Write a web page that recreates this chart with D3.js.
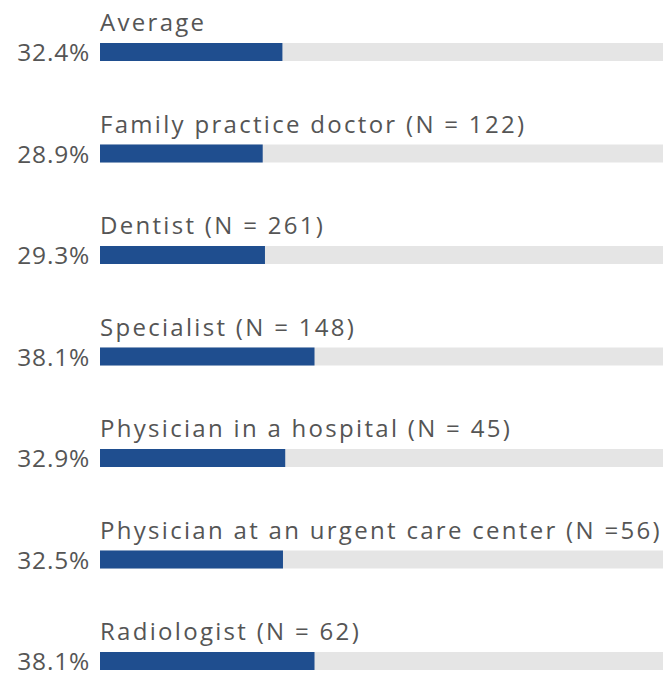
<!DOCTYPE html>
<html><head><meta charset="utf-8">
<script src="https://cdn.jsdelivr.net/npm/d3@7"></script>
<style>body{margin:0;background:#fff}svg{display:block}</style>
</head><body>
<script>
const categories = ["Average","Family practice doctor (N = 122)","Dentist (N = 261)","Specialist (N = 148)","Physician in a hospital (N = 45)","Physician at an urgent care center (N =56)","Radiologist (N = 62)"];
const values = [32.4,28.9,29.3,38.1,32.9,32.5,38.1];
const labels = ["32.4%","28.9%","29.3%","38.1%","32.9%","32.5%","38.1%"];

const W=663,H=674;
const svg=d3.select("body").append("svg").attr("width",W).attr("height",H);
const x=d3.scaleLinear().domain([0,100]).range([100,663]);
const y=d3.scalePoint().domain(categories).range([43,652]);
const bh=18;
const g=svg.selectAll("g.row").data(categories).enter().append("g");
g.append("rect").attr("x",x(0)).attr("y",d=>y(d)).attr("width",x(100)-x(0)).attr("height",bh).attr("fill","#e5e5e5");
g.append("rect").attr("x",x(0)).attr("y",d=>y(d)).attr("width",(d,i)=>x(values[i])-x(0)).attr("height",bh).attr("fill","#1f4e8f");
g.append("text").attr("x",100).attr("y",d=>y(d)-12).text(d=>d)
 .attr("font-family","'Open Sans',sans-serif").attr("font-size",24).attr("letter-spacing",2.3).attr("fill","#555");
g.append("text").attr("x",90).attr("y",d=>y(d)+bh).attr("text-anchor","end").text((d,i)=>labels[i])
 .attr("font-family","'Open Sans',sans-serif").attr("font-size",24.5).attr("letter-spacing",0.8).attr("fill","#555");
</script>
</body></html>
